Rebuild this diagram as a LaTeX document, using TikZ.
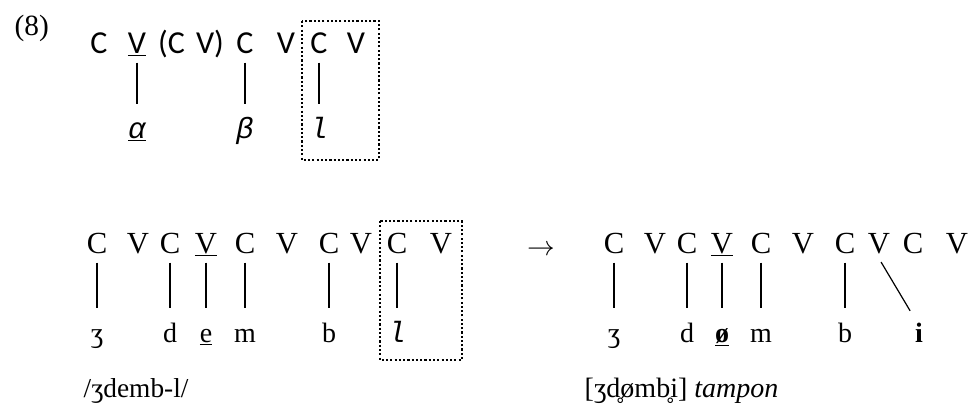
\documentclass[tikz,border=0pt]{standalone}
\usepackage{fontspec}
\setmainfont{Liberation Serif}
\newfontfamily\slotsans{Carlito}
\newfontfamily\segmono{Liberation Mono}
\usepackage{tikz}
\usetikzlibrary{positioning}

\tikzset{
    slot/.style={inner sep=0pt, text height=15pt, text depth=4pt, font=\fontsize{23}{27}\selectfont},
    topslot/.style={slot, font=\slotsans\fontsize{24}{28}\selectfont},
    seg/.style={inner sep=0pt, text height=12pt, text depth=3pt, font=\fontsize{21}{25}\selectfont},
    monoseg/.style={seg, font=\segmono\itshape\fontsize{22}{26}\selectfont},
    assoc/.style={line width=0.9pt, shorten <=3pt, shorten >=13pt},
    dotbox/.style={line width=1.1pt, dash pattern=on 1.6pt off 1.6pt},
}

\begin{document}
\begin{tikzpicture}[x=0.75pt, y=0.75pt, on grid]
        \useasboundingbox (0,0) rectangle (970,-405);
        \node[anchor=base west, font=\fontsize{22}{26}\selectfont] (ex) at (10,-35) {(8)}; % example number
        % template
        \node[topslot, anchor=base] (C1) at (99,-53) {C}; % first slot
        \node[topslot, right=28.5pt of C1] (V1) {\underline{V}}; % stressed V
        \node[topslot, right=40.5pt of V1] (CV) {(C\hspace{0.35em}V)}; % optional CV
        \node[topslot, right=40.5pt of CV] (C2) {C};
        \node[topslot, right=30.75pt of C2] (V2) {V};
        \node[topslot, right=24.75pt of V2] (C3) {C}; % suffix C
        \node[topslot, right=27.75pt of C3] (V3) {V}; % suffix V
        \node[monoseg, below=64.75pt of V1] (alpha) {\underline{α}};
        \node[monoseg, below=64.75pt of C2] (beta) {β};
        \node[monoseg, below=64.75pt of C3] (l) {l};
        \draw[assoc] (V1.south) -- (alpha.north);
        \draw[assoc] (C2.south) -- (beta.north);
        \draw[assoc] (C3.south) -- (l.north);
        \draw[dotbox] (302,-21) rectangle (379,-160); % suffix box
        % underlying form
        \node[slot, anchor=base] (uC1) at (97,-253) {C};
        \node[slot, right=30.75pt of uC1] (uV1) {V};
        \node[slot, right=24pt of uV1] (uC2) {C};
        \node[slot, right=27pt of uC2] (uV2) {\underline{V}}; % stressed V
        \node[slot, right=29.25pt of uV2] (uC3) {C};
        \node[slot, right=31.5pt of uC3] (uV3) {V};
        \node[slot, right=31.5pt of uV3] (uC4) {C};
        \node[slot, right=24pt of uC4] (uV4) {V};
        \node[slot, right=27pt of uV4] (uC5) {C}; % suffix C
        \node[slot, right=33pt of uC5] (uV5) {V}; % suffix V
        \node[seg, below=67.75pt of uC1] (u3) {ʒ};
        \node[seg, below=67.75pt of uC2] (ud) {d};
        \node[seg, below=67.75pt of uV2] (ue) {\underline{e}};
        \node[seg, below=67.75pt of uC3] (um) {m};
        \node[seg, below=67.75pt of uC4] (ub) {b};
        \node[monoseg, below=67.75pt of uC5] (ul) {l};
        \draw[assoc] (uC1.south) -- (u3.north);
        \draw[assoc] (uC2.south) -- (ud.north);
        \draw[assoc] (uV2.south) -- (ue.north);
        \draw[assoc] (uC3.south) -- (um.north);
        \draw[assoc] (uC4.south) -- (ub.north);
        \draw[assoc] (uC5.south) -- (ul.north);
        \draw[dotbox] (380,-221) rectangle (462,-360); % suffix box
        \node[anchor=base west, font=\fontsize{20.5}{24}\selectfont] (uform) at (79,-397) {/ʒdemb-l/};
        % arrow
        \node[font=\fontsize{20}{24}\selectfont] (arr) at (541,-250) {$\rightarrow$};
        % surface form
        \node[slot, anchor=base] (sC1) at (614,-253) {C};
        \node[slot, right=30.75pt of sC1] (sV1) {V};
        \node[slot, right=24pt of sV1] (sC2) {C};
        \node[slot, right=26.25pt of sC2] (sV2) {\underline{V}}; % stressed V
        \node[slot, right=29.25pt of sV2] (sC3) {C};
        \node[slot, right=31.5pt of sC3] (sV3) {V};
        \node[slot, right=31.5pt of sV3] (sC4) {C};
        \node[slot, right=25.5pt of sC4] (sV4) {V};
        \node[slot, right=25.5pt of sV4] (sC5) {C};
        \node[slot, right=33pt of sC5] (sV5) {V};
        \node[seg, below=67.75pt of sC1] (s3) {ʒ};
        \node[seg, below=67.75pt of sC2] (sd) {d};
        \node[seg, below=67.75pt of sV2] (so) {\textbf{\underline{ø}}};
        \node[seg, below=67.75pt of sC3] (sm) {m};
        \node[seg, below=67.75pt of sC4] (sb) {b};
        \node[seg, below right=67.75pt and 30pt of sV4] (si) {\textbf{i}}; % final vowel
        \draw[assoc] (sC1.south) -- (s3.north);
        \draw[assoc] (sC2.south) -- (sd.north);
        \draw[assoc] (sV2.south) -- (so.north);
        \draw[assoc] (sC3.south) -- (sm.north);
        \draw[assoc] (sC4.south) -- (sb.north);
        \draw[assoc] (sV4.south) -- (si.north);
        \node[anchor=base west, font=\fontsize{21}{25}\selectfont] (sform) at (580,-397) {[ʒd̥ømb̥i] \textit{tampon}};
\end{tikzpicture}
\end{document}
